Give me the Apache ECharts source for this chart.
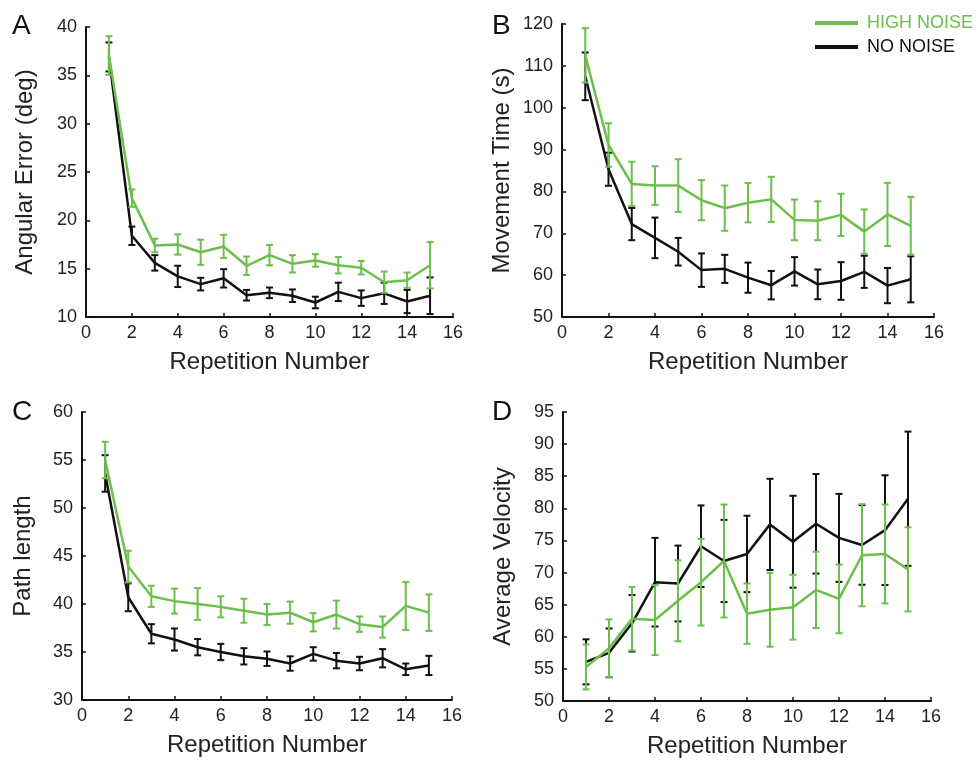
<!DOCTYPE html>
<html>
<head>
<meta charset="utf-8">
<script src="https://cdn.jsdelivr.net/npm/echarts@6/dist/echarts.min.js"></script>
<style>
  html, body { margin: 0; padding: 0; background: #fff; }
  #chart { width: 979px; height: 760px; }
</style>
</head>
<body>
<div id="chart"></div>
<script>
// Repetition index shared by every panel
const repetitions = [1, 2, 3, 4, 5, 6, 7, 8, 9, 10, 11, 12, 13, 14, 15];

// Panel A: angular error (deg), mean and standard error
const angHighMean = [37.05, 22.3, 17.4, 17.5, 16.7, 17.3, 15.3, 16.4, 15.5, 15.85, 15.35, 15.1, 13.6, 13.8, 15.35];
const angHighErr  = [2.0, 0.9, 0.7, 1.05, 1.3, 1.2, 0.95, 1.05, 0.9, 0.65, 0.85, 0.7, 1.1, 0.8, 2.4];
const angNoMean   = [36.9, 18.4, 15.6, 14.2, 13.4, 14.0, 12.25, 12.5, 12.2, 11.5, 12.6, 11.95, 12.45, 11.6, 12.2];
const angNoErr    = [1.5, 0.95, 0.8, 1.1, 0.65, 0.95, 0.55, 0.55, 0.65, 0.6, 0.95, 0.8, 1.1, 1.2, 1.9];

// Panel B: movement time (s)
const mtHighMean = [112.5, 91.1, 81.8, 81.4, 81.4, 77.9, 76.0, 77.3, 78.1, 73.2, 73.0, 74.4, 70.4, 74.5, 71.8];
const mtHighErr  = [6.5, 5.2, 5.3, 4.6, 6.3, 4.8, 5.4, 4.7, 5.4, 4.85, 4.65, 5.05, 5.3, 7.55, 6.9];
const mtNoMean   = [107.5, 85.3, 72.2, 68.9, 65.6, 61.2, 61.5, 59.4, 57.6, 60.9, 57.8, 58.6, 60.8, 57.5, 59.0];
const mtNoErr    = [5.7, 3.95, 3.85, 4.85, 3.3, 4.0, 3.35, 3.6, 3.4, 3.4, 3.55, 4.5, 3.85, 4.2, 5.5];

// Panel C: path length
const plHighMean = [55.0, 43.9, 40.8, 40.3, 40.0, 39.7, 39.3, 38.9, 39.1, 38.1, 38.9, 37.9, 37.6, 39.8, 39.1];
const plHighErr  = [1.9, 1.65, 1.1, 1.3, 1.65, 1.1, 1.25, 1.1, 1.15, 0.95, 1.45, 0.8, 1.1, 2.5, 1.9];
const plNoMean   = [53.6, 40.7, 36.9, 36.3, 35.5, 35.0, 34.55, 34.3, 33.8, 34.8, 34.1, 33.8, 34.35, 33.2, 33.6];
const plNoErr    = [1.9, 1.45, 1.0, 1.15, 0.85, 0.85, 0.85, 0.75, 0.75, 0.7, 0.8, 0.7, 0.95, 0.6, 1.0];

// Panel D: average velocity
const velHighMean = [55.3, 58.2, 62.8, 62.6, 65.6, 68.5, 71.8, 63.6, 64.2, 64.6, 67.3, 65.9, 72.7, 72.9, 70.5];
const velHighErr  = [3.5, 4.5, 4.95, 5.45, 6.3, 6.75, 8.8, 4.7, 5.75, 5.05, 5.95, 5.35, 7.95, 7.7, 6.55];
const velNoMean   = [56.1, 57.5, 62.1, 68.5, 68.3, 74.1, 71.8, 72.9, 77.5, 74.8, 77.6, 75.4, 74.3, 76.6, 81.5];
const velNoErr    = [3.5, 3.8, 4.4, 6.9, 5.9, 6.35, 6.4, 5.95, 7.1, 7.15, 7.75, 6.85, 6.2, 8.55, 10.45];

const panelLetters = ['A', 'B', 'C', 'D'];
const yTitles = ['Angular Error (deg)', 'Movement Time (s)', 'Path length', 'Average Velocity'];
const xTitle = 'Repetition Number';
const groupNames = ['HIGH NOISE', 'NO NOISE'];

const GREEN = '#6cbf4a';
const BLACK = '#111111';
const FONT = 'Liberation Sans, Arial, sans-serif';

const panels = [
  { high: [angHighMean, angHighErr], no: [angNoMean, angNoErr], min: 10, max: 40, step: 5,
    grid: { left: 86, top: 27, width: 367, height: 290 }, yGap: 49 },
  { high: [mtHighMean, mtHighErr], no: [mtNoMean, mtNoErr], min: 50, max: 120, step: 10,
    grid: { left: 562, top: 24, width: 372, height: 293 }, yGap: 48 },
  { high: [plHighMean, plHighErr], no: [plNoMean, plNoErr], min: 30, max: 60, step: 5,
    grid: { left: 82, top: 412, width: 370, height: 288 }, yGap: 47 },
  { high: [velHighMean, velHighErr], no: [velNoMean, velNoErr], min: 50, max: 95, step: 5,
    grid: { left: 563, top: 412, width: 368, height: 289 }, yGap: 48 }
];

function errorBars(idx, means, errs, color, z) {
  return {
    type: 'custom',
    xAxisIndex: idx, yAxisIndex: idx,
    z: z,
    silent: true,
    data: repetitions.map((r, i) => [r, means[i] - errs[i], means[i] + errs[i]]),
    encode: { x: 0, y: [1, 2] },
    renderItem: function (params, api) {
      const x = api.value(0);
      const lo = api.coord([x, api.value(1)]);
      const hi = api.coord([x, api.value(2)]);
      const w = 3.5;
      const st = { stroke: color, lineWidth: 2 };
      return {
        type: 'group',
        children: [
          { type: 'line', shape: { x1: lo[0], y1: lo[1], x2: hi[0], y2: hi[1] }, style: st },
          { type: 'line', shape: { x1: lo[0] - w, y1: lo[1], x2: lo[0] + w, y2: lo[1] }, style: st },
          { type: 'line', shape: { x1: hi[0] - w, y1: hi[1], x2: hi[0] + w, y2: hi[1] }, style: st }
        ]
      };
    }
  };
}

function meanLine(idx, name, means, color, z) {
  return {
    type: 'line', name: name,
    xAxisIndex: idx, yAxisIndex: idx,
    z: z,
    data: repetitions.map((r, i) => [r, means[i]]),
    showSymbol: false, symbol: 'none',
    lineStyle: { color: color, width: 2.5 },
    itemStyle: { color: color },
    animation: false
  };
}

const grids = [], xAxes = [], yAxes = [], series = [], graphics = [];
panels.forEach((p, i) => {
  grids.push(p.grid);
  const axisLine = { show: true, lineStyle: { color: '#111', width: 2 } };
  const axisTick = { show: true, inside: true, length: 4, lineStyle: { color: '#111', width: 1.5 } };
  const label = { color: '#222', fontSize: 18, fontFamily: FONT };
  xAxes.push({
    type: 'value', gridIndex: i, min: 0, max: 16, interval: 2,
    axisLine: axisLine, axisTick: axisTick, splitLine: { show: false },
    axisLabel: Object.assign({ margin: 7 }, label),
    name: xTitle, nameLocation: 'middle', nameGap: 33,
    nameTextStyle: { color: '#222', fontSize: 24, fontFamily: FONT }
  });
  yAxes.push({
    type: 'value', gridIndex: i, min: p.min, max: p.max, interval: p.step,
    axisLine: axisLine, axisTick: axisTick, splitLine: { show: false },
    axisLabel: Object.assign({ margin: 9 }, label),
    name: yTitles[i], nameLocation: 'middle', nameGap: p.yGap, nameRotate: 90,
    nameTextStyle: { color: '#222', fontSize: 24, fontFamily: FONT }
  });
  series.push(errorBars(i, p.no[0], p.no[1], BLACK, 2));
  series.push(meanLine(i, groupNames[1], p.no[0], BLACK, 3));
  series.push(errorBars(i, p.high[0], p.high[1], GREEN, 4));
  series.push(meanLine(i, groupNames[0], p.high[0], GREEN, 5));
  graphics.push({
    type: 'text',
    left: i % 2 === 0 ? 12 : 492,
    top: i < 2 ? 12 : 398,
    style: { text: panelLetters[i], fontSize: 28, fontFamily: FONT, fill: '#111' }
  });
});

const chart = echarts.init(document.getElementById('chart'), null, { renderer: 'canvas' });
chart.setOption({
  animation: false,
  backgroundColor: '#fff',
  grid: grids,
  xAxis: xAxes,
  yAxis: yAxes,
  series: series,
  graphic: graphics,
  legend: {
    orient: 'vertical',
    left: 810, top: 9,
    itemWidth: 43, itemHeight: 4, itemGap: 6,
    icon: 'rect',
    selectedMode: false,
    data: [
      { name: groupNames[0], textStyle: { color: GREEN } },
      { name: groupNames[1], textStyle: { color: '#111' } }
    ],
    textStyle: { fontSize: 18, fontFamily: FONT, lineHeight: 18, padding: [0, 0, 0, 4] }
  }
});
</script>
</body>
</html>
